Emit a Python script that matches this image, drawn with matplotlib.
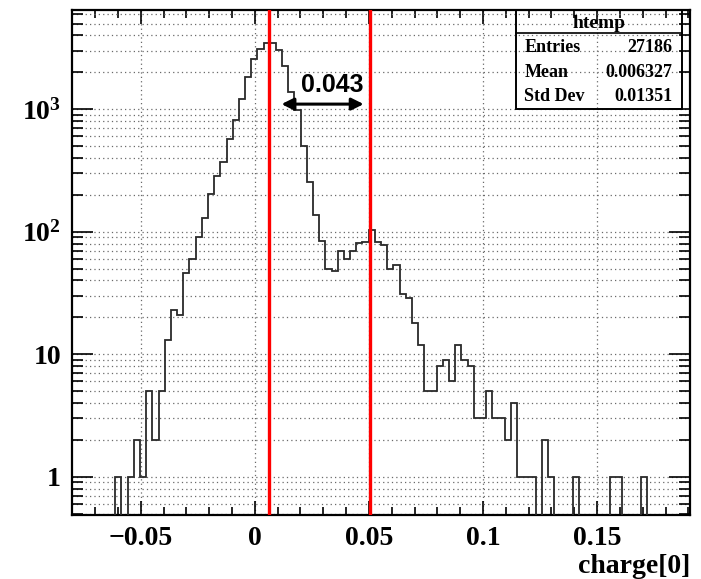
import numpy as np
import matplotlib
matplotlib.use("Agg")
import matplotlib.pyplot as plt
from matplotlib.ticker import FixedLocator, LogLocator, MultipleLocator, NullFormatter

# histogram "htemp" : 100 bins
x_lo, x_hi, n_bins = -0.0801, 0.1907, 100
counts = [0, 0, 0, 0, 0, 0, 0, 1, 0, 1,
          2, 1, 5, 2, 5, 13, 23, 21, 46, 60,
          91, 129, 202, 286, 373, 568, 816, 1211, 1843, 2570,
          3100, 3450, 3490, 3040, 2250, 1390, 985, 504, 256, 137,
          84, 50, 48, 69, 60, 69, 81, 82, 103, 83,
          78, 50, 53, 31, 29, 18, 12, 5, 5, 8,
          9, 6, 12, 9, 8, 3, 3, 5, 3, 3,
          2, 4, 1, 1, 1, 0, 2, 1, 0, 0,
          0, 1, 0, 0, 0, 0, 0, 1, 1, 0,
          0, 0, 1, 0, 0, 0, 0, 0, 0, 0]

peak_pos = [0.0061, 0.0506]
gap_label = "0.043"

stats_title = "htemp"
stats_names = ["Entries", "Mean", "Std Dev"]
stats_values = ["27186", "0.006327", "0.01351"]

x_ticks = [-0.05, 0, 0.05, 0.1, 0.15]
x_tick_labels = ["\u22120.05", "0", "0.05", "0.1", "0.15"]
y_ticks = [1, 10, 100, 1000]
y_tick_labels = ["1", "10", r"$\mathbf{10^{2}}$", r"$\mathbf{10^{3}}$"]

plt.rcParams["font.family"] = ["Liberation Serif", "DejaVu Serif"]
plt.rcParams["font.weight"] = "bold"
plt.rcParams["mathtext.fontset"] = "custom"
plt.rcParams["mathtext.rm"] = "Liberation Serif:bold"
plt.rcParams["mathtext.bf"] = "Liberation Serif:bold"

fig = plt.figure(figsize=(7.01, 5.79), dpi=100)
ax = fig.add_axes([72 / 701, 64 / 579, 618 / 701, 505 / 579])

edges = np.linspace(x_lo, x_hi, n_bins + 1)
vals = np.array(counts, dtype=float)
floor = 1e-2
ax.stairs(np.where(vals > 0, vals, floor), edges, baseline=floor,
          color="#2a2a2a", lw=1.3, zorder=3)

ax.set_yscale("log")
ax.set_xlim(x_lo, x_hi)
ax.set_ylim(0.487, 6450)

# ticks
ax.xaxis.set_major_locator(FixedLocator(x_ticks))
ax.set_xticklabels(x_tick_labels)
ax.xaxis.set_minor_locator(MultipleLocator(0.01))
ax.yaxis.set_major_locator(FixedLocator(y_ticks))
ax.set_yticklabels(y_tick_labels)
ax.yaxis.set_minor_locator(LogLocator(base=10, subs=range(2, 10)))
ax.yaxis.set_minor_formatter(NullFormatter())

ax.tick_params(which="both", direction="in", top=True, right=True,
               width=1.2, labelsize=20, colors="black")
ax.tick_params(axis="x", which="major", length=10, pad=8)
ax.tick_params(axis="x", which="minor", length=6)
ax.tick_params(axis="y", which="major", length=15, pad=8)
ax.tick_params(axis="y", which="minor", length=8)
for lab in ax.get_xticklabels() + ax.get_yticklabels():
    lab.set_fontweight("bold")

grid_style = dict(color="#6a6a6a", lw=0.9, ls=(0, (1, 2.5)))
ax.grid(True, axis="x", which="major", **grid_style)
ax.grid(True, axis="y", which="both", **grid_style)
ax.set_axisbelow(True)

for s in ax.spines.values():
    s.set_linewidth(1.6)

# peak markers
for p in peak_pos:
    ax.axvline(p, color="red", lw=2.4, zorder=4)

ax.annotate("", xy=(0.0117, 1100), xytext=(0.0477, 1100),
            arrowprops=dict(arrowstyle="<|-|>", color="black", lw=2.2,
                            mutation_scale=18, shrinkA=0, shrinkB=0),
            zorder=5)
ax.text(0.0341, 1570, gap_label, ha="center", va="center", fontsize=18,
        fontweight="bold", family="Liberation Sans", zorder=5)

ax.set_xlabel("charge[0]", loc="right", fontsize=20, fontweight="bold",
              labelpad=2)

# stats box
bx0, bx1, by0, by1 = 0.719, 0.987, 0.804, 1.0
ax.add_patch(plt.Rectangle((bx0, by0), bx1 - bx0, by1 - by0,
                           transform=ax.transAxes, fill=False,
                           ec="black", lw=1.4, zorder=6))
ax.plot([bx0, bx1], [0.954, 0.954], transform=ax.transAxes,
        color="black", lw=1.2, zorder=6)
ax.text((bx0 + bx1) / 2, 0.974, stats_title, transform=ax.transAxes,
        ha="center", va="center", fontsize=14, fontweight="bold", zorder=6)
for i, (n, v) in enumerate(zip(stats_names, stats_values)):
    yy = 0.925 - i * 0.048
    ax.text(bx0 + 0.013, yy, n, transform=ax.transAxes, ha="left",
            va="center", fontsize=13, fontweight="bold", zorder=6)
    ax.text(bx1 - 0.016, yy, v, transform=ax.transAxes, ha="right",
            va="center", fontsize=13, fontweight="bold", zorder=6)

fig.savefig("out.png", dpi=100)
